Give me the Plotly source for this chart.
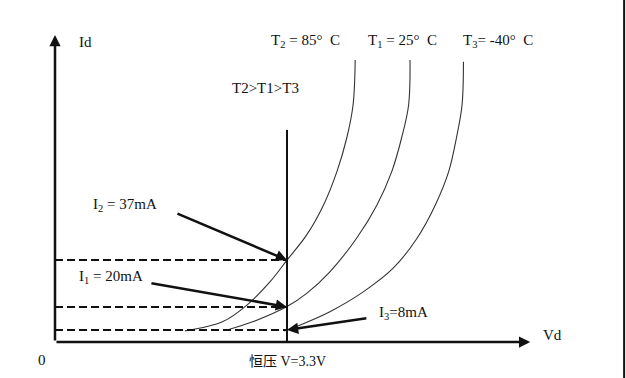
import plotly.graph_objects as go

# ---- data (schematic units: Vd in volts, Id in chart units) ----
v_const = 3.3
axis_x_end = 6.76
axis_y_end = 102.3
const_line_top = 70.7

level_labels = ["I<sub>2</sub> = 37mA", "I<sub>1</sub> = 20mA", "I<sub>3</sub>=8mA"]
level_values = [27.3, 11.7, 4.0]

curve_names = ["T<sub>2</sub> = 85°  C", "T<sub>1</sub> = 25°  C", "T<sub>3</sub>= -40°  C"]
t2_vd = [1.85, 2.39, 2.73, 3.06, 3.30, 3.58, 3.82, 4.01, 4.15, 4.24, 4.27]
t2_id = [3.7, 6.8, 12.3, 20.1, 27.3, 35.7, 45.7, 56.8, 68.0, 79.0, 94.0]
t1_vd = [2.45, 2.82, 3.30, 3.58, 3.91, 4.29, 4.58, 4.79, 4.93, 5.03, 5.05]
t1_id = [4.0, 6.8, 11.8, 16.2, 23.4, 34.6, 45.7, 56.8, 68.0, 79.0, 94.0]
t3_vd = [3.26, 3.49, 3.91, 4.39, 4.81, 5.15, 5.41, 5.60, 5.71, 5.79, 5.81]
t3_id = [3.7, 5.7, 10.1, 16.8, 24.6, 34.6, 45.7, 56.8, 68.0, 79.0, 93.4]

arrow_tails = [(1.72, 43.0), (1.35, 19.7), (4.45, 8.0)]

fig = go.Figure()

ink = "#111111"
serif = "Liberation Serif"

# curves
for vx, vy in [(t2_vd, t2_id), (t1_vd, t1_id), (t3_vd, t3_id)]:
    fig.add_trace(go.Scatter(x=vx, y=vy, mode="lines",
                             line=dict(color="#333333", width=1.1, shape="spline", smoothing=1.0),
                             hoverinfo="skip", showlegend=False))

# dashed levels
for lv in level_values:
    fig.add_trace(go.Scatter(x=[0, v_const], y=[lv, lv], mode="lines",
                             line=dict(color=ink, width=2, dash="8px,4px"),
                             hoverinfo="skip", showlegend=False))

# constant voltage line
fig.add_trace(go.Scatter(x=[v_const, v_const], y=[0, const_line_top], mode="lines",
                         line=dict(color=ink, width=2), hoverinfo="skip", showlegend=False))

ann = []
# axes with arrows
ann.append(dict(x=0, y=axis_y_end, ax=0, ay=0, xref="x", yref="y", axref="x", ayref="y",
                showarrow=True, arrowhead=2, arrowsize=0.9, arrowwidth=2.5, arrowcolor=ink, text=""))
ann.append(dict(x=axis_x_end, y=0, ax=0, ay=0, xref="x", yref="y", axref="x", ayref="y",
                showarrow=True, arrowhead=2, arrowsize=0.9, arrowwidth=2.5, arrowcolor=ink, text=""))

# pointer arrows
for (tx, ty), lv in zip(arrow_tails, level_values):
    ann.append(dict(x=v_const, y=lv, ax=tx, ay=ty, xref="x", yref="y", axref="x", ayref="y",
                    showarrow=True, arrowhead=2, arrowsize=0.9, arrowwidth=2.5, arrowcolor=ink, text=""))

def txt(x, y, s, size=15, font=serif):
    ann.append(dict(x=x, y=y, xref="x", yref="y", text=s, showarrow=False,
                    font=dict(family=font, size=size, color=ink), xanchor="center", yanchor="middle"))

txt(0.44, 100.0, "Id")
for xpos, name in zip([3.57, 4.94, 6.30], curve_names):
    txt(xpos, 100.3, name)
txt(2.99, 84.7, "T2&gt;T1&gt;T3")
for (xpos, ypos), lab in zip([(1.0, 45.7), (0.80, 21.7), (4.96, 9.7)], level_labels):
    txt(xpos, ypos, lab)
txt(7.07, 2.3, "Vd")
txt(-0.185, -6.0, "0")
ann.append(dict(x=3.31, y=-6.0, xref="x", yref="y", showarrow=False,
                text="<span style='font-family:Noto Sans CJK SC'>恒压</span> V=3.3V",
                font=dict(family=serif, size=14, color=ink), xanchor="center", yanchor="middle"))

fig.update_layout(
    width=626, height=378,
    margin=dict(l=0, r=0, t=0, b=0),
    paper_bgcolor="white", plot_bgcolor="white",
    xaxis=dict(range=[-0.7824, 8.1223], visible=False, fixedrange=True),
    yaxis=dict(range=[-12, 114], visible=False, fixedrange=True),
    annotations=ann,
    shapes=[dict(type="line", xref="paper", yref="paper", x0=0.997, x1=0.997, y0=0, y1=1,
                 line=dict(color=ink, width=2))],
)

fig.write_html("out.html")
